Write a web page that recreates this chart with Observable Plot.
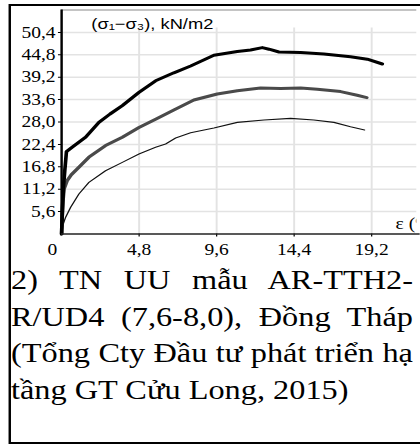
<!DOCTYPE html>
<html>
<head>
<meta charset="utf-8">
<script src="https://cdn.jsdelivr.net/npm/d3@7"></script>
<script src="https://cdn.jsdelivr.net/npm/@observablehq/plot@0.6"></script>
<style>
  html, body { margin: 0; padding: 0; background: #fff; width: 420px; height: 444px; overflow: hidden; }
  #fig { position: absolute; left: 0; top: 0; width: 344.3px; height: 444px; transform: scaleX(1.22); transform-origin: 0 0; }
  #frame { position: absolute; left: 6.9px; top: 4.3px; width: 350px; height: 439.4px; border: 2px solid #000; box-sizing: border-box; }
  #chart { position: absolute; left: 0; top: 0; }
  #caption { position: absolute; left: 9px; top: 262px; width: 329.5px; font-family: "Liberation Serif", "Times New Roman", serif; font-size: 26.5px; line-height: 36.5px; color: #000; }
  #caption div { text-align: justify; text-align-last: justify; }
  #caption div.last { text-align-last: left; }
</style>
</head>
<body>
<div id="fig">
  <div id="frame"></div>
  <div id="chart"></div>
  <div id="caption">
    <div>2) TN UU mẫu AR-TTH2-</div>
    <div>R/UD4 (7,6-8,0), Đồng Tháp</div>
    <div>(Tổng Cty Đầu tư phát triển hạ</div>
    <div class="last">tầng GT Cửu Long, 2015)</div>
  </div>
</div>
<script>
// Axis ticks
const xTicks = [0, 4.8, 9.6, 14.4, 19.2];
const yTicks = [5.6, 11.2, 16.8, 22.4, 28.0, 33.6, 39.2, 44.8, 50.4];

// Deviator stress (kN/m2) vs axial strain (%), three cell pressures
const strainHigh = [0, 0.05, 0.12, 0.2, 0.3, 0.66, 1.49, 2.31, 3.0, 3.76, 4.79, 5.82, 6.95, 7.99, 9.43, 10.88, 11.7, 12.43, 12.84, 13.46, 14.8, 16.24, 17.89, 18.93, 19.86];
const stressHigh = [0, 6, 12, 16, 20.6, 21.7, 24.2, 27.9, 30.0, 32.1, 35.4, 38.3, 40.3, 42.0, 44.7, 45.6, 46.0, 46.6, 46.2, 45.5, 45.4, 45.0, 44.3, 43.7, 42.5];

const strainMid = [0, 0.03, 0.08, 0.15, 0.35, 0.6, 1.07, 1.69, 2.72, 3.76, 4.79, 5.82, 6.95, 8.19, 9.64, 10.88, 12.32, 13.56, 14.8, 15.83, 17.28, 18.3, 18.9];
const stressMid = [0, 4, 8, 11.2, 13.4, 14.8, 16.7, 19.2, 22.1, 24.2, 26.6, 28.7, 31.0, 33.5, 35.0, 35.8, 36.5, 36.4, 36.5, 36.2, 35.6, 34.7, 34.1];

const strainLow = [0, 0.1, 0.25, 0.56, 1.07, 1.69, 2.72, 3.76, 4.79, 5.82, 6.44, 7.06, 7.99, 9.43, 10.88, 12.53, 14.18, 15.62, 16.86, 17.89, 18.76];
const stressLow = [0, 2.5, 4.2, 6.7, 10.0, 12.9, 15.8, 17.9, 20.0, 21.7, 22.5, 24.0, 25.3, 26.5, 27.9, 28.5, 28.9, 28.5, 27.9, 26.8, 26.0];

const yTitle = "(σ₁−σ₃), kN/m2";
const xTitle = "ε (%)";

const toRows = (xs, ys) => xs.map((x, i) => ({x, y: ys[i]}));
const fmt = (d) => d === 0 ? "0" : d.toFixed(1).replace(".", ",");

const S = 1.22;            // horizontal stretch applied to the whole figure
const W = 420 / S;
const H = 262;

const chart = Plot.plot({
  width: W,
  height: H,
  marginLeft: 61 / S,
  marginRight: W - 416.3 / S,
  marginTop: 9.5,
  marginBottom: H - 233.5,
  x: {domain: [0, 22]},
  y: {domain: [0, 56]},
  style: {fontFamily: "'Liberation Serif', 'Times New Roman', serif", fontSize: "16px", color: "#000", background: "transparent"},
  marks: [
    Plot.ruleY(yTicks, {stroke: "#e3e3e3", strokeWidth: 1.5}),
    Plot.ruleX(xTicks.slice(1), {y1: 0, y2: 51.5, stroke: "#e3e3e3", strokeWidth: 1.6}),
    Plot.ruleY([56], {stroke: "#8a8a8a", strokeWidth: 1.2}),
    Plot.line(toRows(strainLow, stressLow), {x: "x", y: "y", stroke: "#111", strokeWidth: 1.1}),
    Plot.line(toRows(strainMid, stressMid), {x: "x", y: "y", stroke: "#4a4a4a", strokeWidth: 3}),
    Plot.line(toRows(strainHigh, stressHigh), {x: "x", y: "y", stroke: "#000", strokeWidth: 3}),
    Plot.axisY({ticks: yTicks, tickFormat: fmt, tickSize: 2.5, tickPadding: 2.5, label: null}),
    Plot.axisX({ticks: xTicks.slice(1), tickFormat: fmt, tickSize: 3, tickPadding: 7, label: null}),
    Plot.text([0], {x: (d) => d, frameAnchor: "bottom", lineAnchor: "top", dy: 10.1, dx: -7.6, text: fmt, fontSize: 16}),
    Plot.ruleX([0], {stroke: "#000", strokeWidth: 2}),
    Plot.ruleY([0], {x1: 0, x2: 22.4, stroke: "#222", strokeWidth: 1.3}),
    Plot.text([yTitle], {frameAnchor: "top-left", dx: (90.7 - 61) / S, dy: 18.8, lineAnchor: "bottom", textAnchor: "start", fontFamily: "'Liberation Sans', Arial, sans-serif", fontSize: 15, text: (d) => d}),
    // strain label sits at the right end of the frame and is clipped by it
    Plot.text([xTitle], {x: 20.68, y: 1.25, lineAnchor: "bottom", textAnchor: "start", fontSize: 16, text: (d) => d, clip: true})
  ]
});
document.getElementById("chart").appendChild(chart);
</script>
</body>
</html>
